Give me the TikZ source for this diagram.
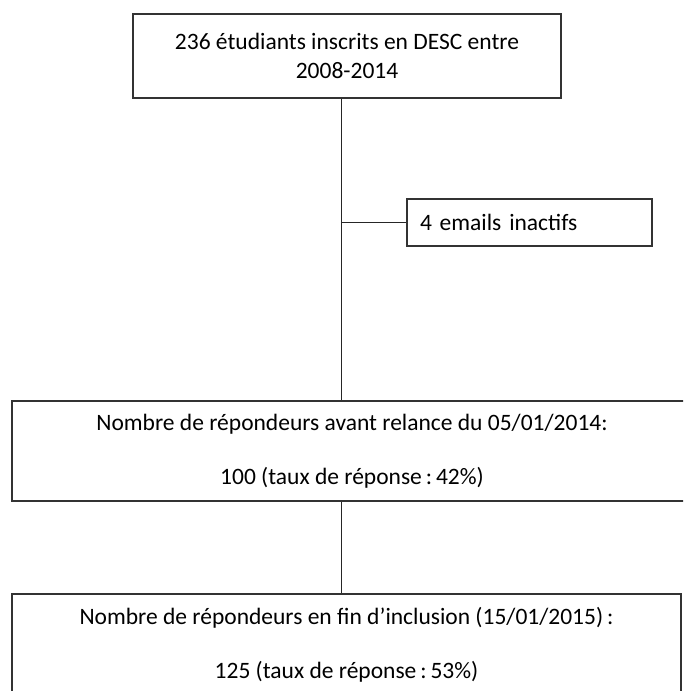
\documentclass[tikz,border=0pt]{standalone}
\usepackage{fontspec}
\setmainfont{Carlito}
\usetikzlibrary{positioning}
\begin{document}
\begin{tikzpicture}[x=1pt,y=-1pt,
      box/.style={
         rectangle,
         draw=black!80,
         line width=1.3pt,
         inner sep=0pt,
         font=\fontsize{23.5}{29}\selectfont
      },
      link/.style={draw=black!85,line width=1pt},
      point/.style={coordinate}
    ]
    \useasboundingbox (0,0) rectangle (683,691);
    \clip (0,0) rectangle (683,691);
    % boxes
    \node (n1) [box, minimum width=428pt, minimum height=84pt, align=center] at (347,56)
       {236 étudiants inscrits en DESC entre\\2008-2014};
    \node (n2) [box, minimum width=245pt, minimum height=47pt, text width=219pt, inner xsep=13pt, align=left] at (529.5,222.5)
       {4 emails inactifs};
    \node (n3) [box, minimum width=680pt, minimum height=100pt, align=center] at (352,451)
       {Nombre de répondeurs avant relance du 05/01/2014:\\[25pt]100 (taux de réponse\,:\,42\%)};
    \node (n4) [box, minimum width=669pt, minimum height=101pt, align=center] at (346.5,644.5)
       {Nombre de répondeurs en fin d’inclusion (15/01/2015)\,:\\[25pt]125 (taux de réponse\,:\,53\%)};
    % connectors
    \node (s1) [point] at ([xshift=-6pt]n1.south) {};
    \node (s2) [point] at (s1 |- n2.west) {};
    \draw [link] (s1) -- (s1 |- n3.north);
    \draw [link] (s2) -- (n2.west);
    \draw [link] (s1 |- n3.south) -- (s1 |- n4.north);
\end{tikzpicture}
\end{document}
